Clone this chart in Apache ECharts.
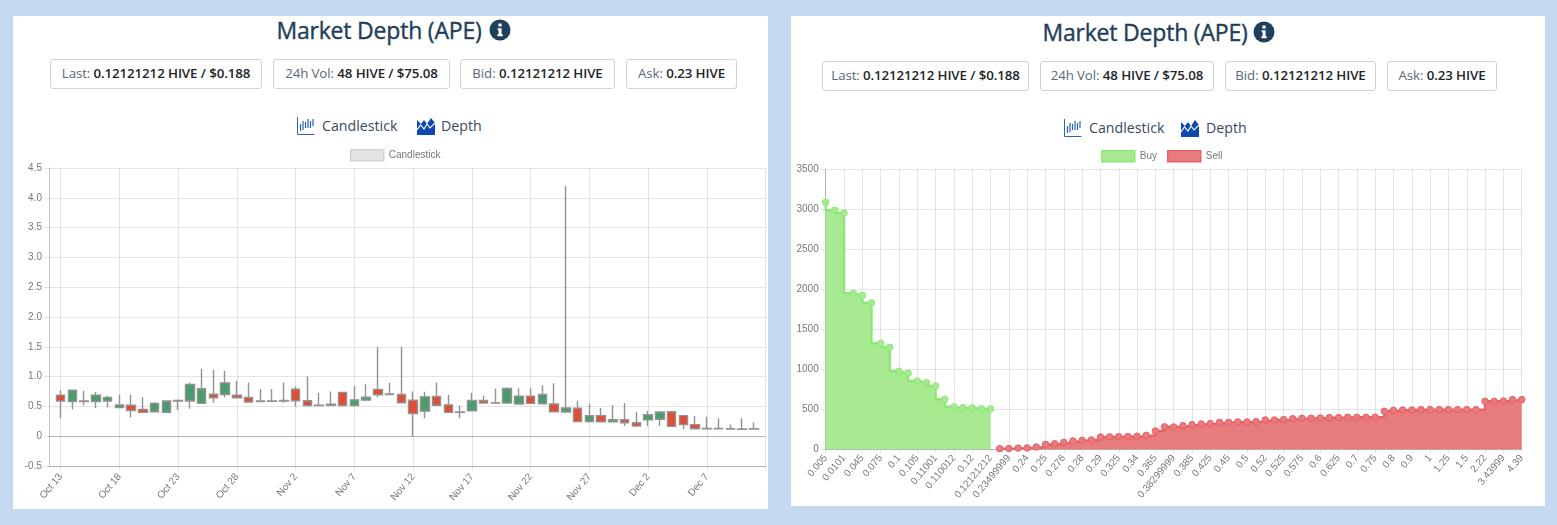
<!DOCTYPE html>
<html style="height: 100%">
<head>
<meta charset="utf-8">
<style>
html, body { margin: 0; height: 100%; background: #c5d9f1; overflow: hidden; font-family: "Open Sans", "Noto Sans", sans-serif; }
.card { position: absolute; background: #fff; }
.abs { position: absolute; white-space: nowrap; }
.title { font-size: 23px; font-weight: 400; color: #1f3f5b; transform: translateX(-50%); line-height: 30px; letter-spacing: -.2px; -webkit-text-stroke: .4px #1f3f5b; }
.pill { box-sizing: border-box; border: 1px solid #cfd4d8; border-radius: 3px; height: 30px; line-height: 27px; text-align: center; font-size: 13.3px; color: #5a6976; background: #fff; letter-spacing: -.1px; }
.pill b { font-weight: 600; color: #212529; }
.tab { font-size: 14.2px; color: #3a4a58; line-height: 20px; }
.chart { position: absolute; }
</style>
</head>
<body>
<div class="card" style="left:13px;top:16px;width:755px;height:493px"></div>
<div class="card" style="left:791px;top:16px;width:754px;height:490px"></div>
<div id="chrome"></div>
<div id="candleChart" class="chart" style="left:13px;top:140px;width:755px;height:369px"></div>
<div id="depthChart" class="chart" style="left:791px;top:140px;width:754px;height:366px"></div>
<script src="https://cdn.jsdelivr.net/npm/echarts@6/dist/echarts.min.js"></script>
<script>
// candlestick panel: one entry per day, [open, close, low, high]
var dayLabels = ['Oct 13','Oct 14','Oct 15','Oct 16','Oct 17','Oct 18','Oct 19','Oct 20','Oct 21','Oct 22','Oct 23','Oct 24','Oct 25','Oct 26','Oct 27','Oct 28','Oct 29','Oct 30','Oct 31',
  'Nov 1','Nov 2','Nov 3','Nov 4','Nov 5','Nov 6','Nov 7','Nov 8','Nov 9','Nov 10','Nov 11','Nov 12','Nov 13','Nov 14','Nov 15','Nov 16','Nov 17','Nov 18','Nov 19','Nov 20','Nov 21','Nov 22','Nov 23','Nov 24','Nov 25','Nov 26','Nov 27','Nov 28','Nov 29','Nov 30',
  'Dec 1','Dec 2','Dec 3','Dec 4','Dec 5','Dec 6','Dec 7','Dec 8','Dec 9','Dec 10','Dec 11'];
var ohlc = [
  [0.69,0.59,0.30,0.77],[0.58,0.77,0.45,0.77],[0.58,0.59,0.52,0.76],[0.58,0.69,0.475,0.74],[0.59,0.65,0.48,0.68],
  [0.48,0.525,0.48,0.695],[0.52,0.43,0.32,0.695],[0.45,0.40,0.40,0.655],[0.41,0.55,0.41,0.57],[0.40,0.59,0.40,0.59],
  [0.59,0.60,0.44,0.615],[0.59,0.87,0.46,0.90],[0.55,0.795,0.55,1.13],[0.705,0.645,0.555,1.115],[0.70,0.895,0.65,1.10],
  [0.69,0.645,0.645,0.925],[0.65,0.575,0.56,0.90],[0.58,0.59,0.57,0.79],[0.585,0.59,0.585,0.79],[0.59,0.60,0.555,0.90],
  [0.79,0.595,0.49,0.835],[0.595,0.515,0.515,1.0],[0.515,0.52,0.515,0.73],[0.52,0.535,0.52,0.75],[0.735,0.515,0.515,0.735],
  [0.515,0.61,0.515,0.845],[0.605,0.655,0.605,0.87],[0.785,0.695,0.65,1.5],[0.70,0.71,0.695,0.895],[0.70,0.56,0.56,1.5],
  [0.605,0.38,0.0,0.75],[0.42,0.66,0.30,0.745],[0.665,0.52,0.52,0.90],[0.525,0.40,0.40,0.695],[0.40,0.405,0.30,0.515],
  [0.425,0.60,0.425,0.73],[0.60,0.555,0.545,0.68],[0.555,0.56,0.555,0.795],[0.555,0.80,0.555,0.82],[0.54,0.67,0.54,0.805],
  [0.67,0.55,0.55,0.805],[0.545,0.70,0.545,0.855],[0.54,0.41,0.41,0.89],[0.405,0.475,0.405,4.2],[0.47,0.245,0.245,0.60],
  [0.245,0.345,0.225,0.545],[0.345,0.24,0.24,0.475],[0.24,0.275,0.24,0.52],[0.275,0.225,0.17,0.555],[0.225,0.17,0.17,0.41],
  [0.275,0.36,0.17,0.425],[0.285,0.405,0.17,0.415],[0.41,0.165,0.165,0.41],[0.345,0.195,0.12,0.345],[0.195,0.125,0.125,0.34],
  [0.125,0.13,0.125,0.325],[0.125,0.13,0.125,0.30],[0.12,0.125,0.12,0.195],[0.115,0.12,0.115,0.30],[0.12,0.125,0.12,0.235]
];

// depth panel: prices on the x axis, cumulative volume per side
var buyPrices = ['0.005','0.01','0.0101','0.04','0.045','0.07','0.075','0.09','0.1','0.101','0.105','0.11','0.11001','0.11001','0.110012','0.115','0.12','0.121','0.12121212'];
var sellPrices = ['0.23','0.23499999','0.239','0.24','0.245','0.25','0.275','0.276','0.278','0.28','0.285','0.29','0.3','0.325','0.33','0.34','0.35','0.365','0.38','0.38299999','0.384','0.385','0.4','0.425','0.44','0.45','0.475','0.5','0.51','0.52','0.524','0.525','0.55','0.575','0.59','0.6','0.61','0.625','0.65','0.7','0.725','0.75','0.775','0.8','0.85','0.9','0.95','1','1.2','1.25','1.4','1.5','2','2.22','3','3.43999','4','4.39'];
var buyDepth = [3087,2987,2954,1950,1925,1829,1325,1275,975,950,854,833,792,625,529,521,517,508,504];
var sellDepth = [8,10,15,17,29,62,70,87,104,112,117,154,155,158,160,162,175,229,281,279,296,308,317,321,337,337,342,342,346,367,367,371,383,387,388,392,396,396,400,400,400,402,475,487,492,492,496,496,496,496,496,496,496,600,600,604,621,621];

// page chrome
var panels = [
  { cx: 379, iconX: 500, titleY: 15, pillY: 59, tabY: 116, c1: 297, c2: 322, d1: 417, d2: 441,
    pills: [[50,212],[273,177],[460,155],[626,111]] },
  { cx: 1145, iconX: 1264, titleY: 17, pillY: 61, tabY: 118, c1: 1064, c2: 1089, d1: 1181, d2: 1206,
    pills: [[822,207],[1040,174],[1225,151],[1387,110]] }
];
var pillText = [
  ['Last: ', '0.12121212 HIVE / $0.188'],
  ['24h Vol: ', '48 HIVE / $75.08'],
  ['Bid: ', '0.12121212 HIVE'],
  ['Ask: ', '0.23 HIVE']
];
var candleIcon = '<svg width="18" height="20" viewBox="0 0 18 20" fill="none" stroke="#2a62b8" stroke-width="1"><path d="M.5 1v17.5H17.5"/><path d="M3.5 8v7M6 5v9M8.5 6v6M11 3v9M13.5 5v7M16 3v7" stroke-width="1.2"/></svg>';
var depthIcon = '<svg width="18" height="20" viewBox="0 0 18 20"><path d="M0 19V4l4 4 3-4 3 4 4-6 4 5v12z" fill="#0f49b0"/><path d="M0 14l3.5-5 3.5 4 3-5 3 4 5-5" fill="none" stroke="#fff" stroke-width="1.1"/></svg>';
var infoIcon = '<svg width="22" height="22" viewBox="0 0 22 22"><circle cx="11" cy="11" r="10.5" fill="#1f3f5b"/><rect x="9.4" y="4.6" width="3.2" height="3" rx=".6" fill="#fff"/><path d="M8.6 9.2h4v6h1.2v2H8.4v-2h1.2v-4h-1z" fill="#fff"/></svg>';
var html = '';
panels.forEach(function (p) {
  html += '<div class="abs title" style="left:' + p.cx + 'px;top:' + p.titleY + 'px">Market Depth (APE)</div>';
  html += '<div class="abs" style="left:' + (p.iconX - 11) + 'px;top:' + (p.titleY + 4) + 'px;height:22px">' + infoIcon + '</div>';
  p.pills.forEach(function (b, i) {
    html += '<div class="abs pill" style="left:' + b[0] + 'px;top:' + p.pillY + 'px;width:' + b[1] + 'px">' + pillText[i][0] + '<b>' + pillText[i][1] + '</b></div>';
  });
  html += '<div class="abs" style="left:' + p.c1 + 'px;top:' + p.tabY + 'px;height:20px">' + candleIcon + '</div>';
  html += '<div class="abs tab" style="left:' + p.c2 + 'px;top:' + p.tabY + 'px">Candlestick</div>';
  html += '<div class="abs" style="left:' + p.d1 + 'px;top:' + p.tabY + 'px;height:20px">' + depthIcon + '</div>';
  html += '<div class="abs tab" style="left:' + p.d2 + 'px;top:' + p.tabY + 'px">Depth</div>';
});
document.getElementById('chrome').innerHTML = html;

var tickFont = { color: '#777', fontSize: 10, fontFamily: '"Liberation Sans", Arial, sans-serif' };
var gridLine = { color: 'rgba(0,0,0,0.1)', width: 1 };
var axisEdge = { color: 'rgba(0,0,0,0.22)', width: 1 };

// left chart: blank slot either side of the days gives the offset of the first and last candle
var candleCats = [''].concat(dayLabels, ['']);
var candleData = ['-'].concat(ohlc, ['-']);
function everyFifthDay(i) { return i >= 1 && i <= 60 && (i - 1) % 5 === 0; }

var candleChart = echarts.init(document.getElementById('candleChart'));
candleChart.setOption({
  animation: false,
  legend: {
    top: 4, left: 332, selectedMode: false, itemWidth: 33, itemHeight: 11, itemGap: 10,
    textStyle: tickFont,
    data: [{ name: 'Candlestick', icon: 'rect', itemStyle: { color: '#e4e4e4', borderColor: '#d2d2d2', borderWidth: 1.5 } }]
  },
  grid: { left: 36, right: 2.3, top: 28, bottom: 43 },
  xAxis: {
    type: 'category', data: candleCats, boundaryGap: false,
    axisLine: { onZero: false, lineStyle: axisEdge },
    axisTick: { show: true, length: 4, interval: function (i) { return everyFifthDay(i) || i === 61; }, lineStyle: gridLine },
    axisLabel: Object.assign({}, tickFont, { rotate: 50, margin: 9, interval: function (i) { return everyFifthDay(i); } }),
    splitLine: { show: true, interval: function (i) { return everyFifthDay(i) || i === 61; }, lineStyle: gridLine }
  },
  yAxis: {
    type: 'value', min: -0.5, max: 4.5, interval: 0.5,
    axisLine: { show: true, lineStyle: axisEdge },
    axisTick: { show: true, length: 5, lineStyle: gridLine },
    axisLabel: Object.assign({}, tickFont, { margin: 7, formatter: function (v) { return v === 0 ? '0' : v.toFixed(1); } }),
    splitLine: { show: true, lineStyle: gridLine }
  },
  series: [{
    name: 'Candlestick', type: 'candlestick', data: candleData, barWidth: 9,
    itemStyle: {
      color: '#4a9c6d', color0: '#e04c34',
      borderColor: '#939393', borderColor0: '#939393', borderColorDoji: '#777777', borderWidth: 1.4
    },
    markLine: {
      silent: true, symbol: 'none', label: { show: false },
      lineStyle: { color: 'rgba(0,0,0,0.22)', width: 1, type: 'solid' },
      data: [{ yAxis: 0 }]
    }
  }]
});

// right chart
var depthCats = buyPrices.concat(sellPrices);
var buySeries = buyDepth.concat(sellPrices.map(function () { return null; }));
var sellSeries = buyPrices.map(function () { return null; }).concat(sellDepth);
function everyOtherPrice(i) { return i % 2 === 0; }

var depthChart = echarts.init(document.getElementById('depthChart'));
depthChart.setOption({
  animation: false,
  legend: {
    top: 5, left: 305, selectedMode: false, itemWidth: 33, itemHeight: 11, itemGap: 10,
    textStyle: tickFont,
    data: [
      { name: 'Buy', icon: 'rect', itemStyle: { color: '#a8ea92', borderColor: '#8be875', borderWidth: 1.5 } },
      { name: 'Sell', icon: 'rect', itemStyle: { color: '#e67c7c', borderColor: '#e8606a', borderWidth: 1.5 } }
    ]
  },
  grid: { left: 34.7, right: 23.3, top: 29.3, height: 280 },
  xAxis: {
    type: 'category', data: depthCats, boundaryGap: false,
    axisLine: { lineStyle: axisEdge },
    axisTick: { show: true, length: 4, interval: function (i) { return everyOtherPrice(i); }, lineStyle: gridLine },
    axisLabel: Object.assign({}, tickFont, { rotate: 50, margin: 7, interval: function (i) { return everyOtherPrice(i); } }),
    splitLine: { show: true, interval: function (i) { return everyOtherPrice(i); }, lineStyle: gridLine }
  },
  yAxis: {
    type: 'value', min: 0, max: 3500, interval: 500,
    axisLine: { show: true, lineStyle: axisEdge },
    axisTick: { show: true, length: 5, lineStyle: gridLine },
    axisLabel: Object.assign({}, tickFont, { margin: 7, formatter: function (v) { return String(v); } }),
    splitLine: { show: true, lineStyle: gridLine }
  },
  series: [{
    name: 'Buy', type: 'line', step: 'start', data: buySeries, showSymbol: true, showAllSymbol: true, symbol: 'circle', symbolSize: 6.5,
    lineStyle: { color: '#8be875', width: 2.4 },
    itemStyle: { color: '#a8ea92', borderColor: '#8be875', borderWidth: 1 },
    areaStyle: { color: '#a8ea92', opacity: 1 }
  }, {
    name: 'Sell', type: 'line', step: 'end', data: sellSeries, showSymbol: true, showAllSymbol: true, symbol: 'circle', symbolSize: 6.5,
    lineStyle: { color: '#e8606a', width: 2.4 },
    itemStyle: { color: '#e67c7c', borderColor: '#e8606a', borderWidth: 1 },
    areaStyle: { color: '#e67c7c', opacity: 1 }
  }]
});
</script>
</body>
</html>
